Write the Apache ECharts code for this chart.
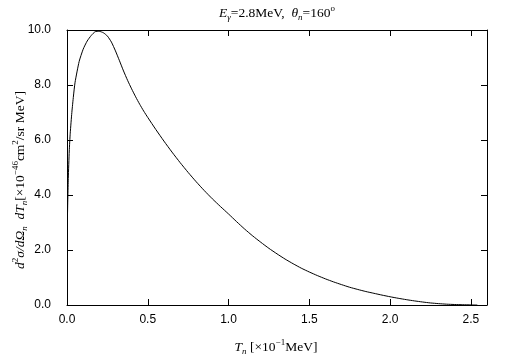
<!DOCTYPE html>
<html>
<head>
<meta charset="utf-8">
<script src="https://cdn.jsdelivr.net/npm/echarts@6/dist/echarts.min.js"></script>
<style>html,body{margin:0;padding:0;background:#fff}#c{width:505px;height:361px}</style>
</head>
<body>
<div id="c"></div>
<script>
var tn = [0.003, 0.008, 0.014, 0.02, 0.03, 0.04, 0.05, 0.075, 0.10, 0.125, 0.15, 0.175, 0.20, 0.225, 0.25, 0.275, 0.30, 0.325, 0.35, 0.375, 0.40, 0.425, 0.45, 0.475, 0.50, 0.55, 0.60, 0.65, 0.70, 0.75, 0.80, 0.85, 0.90, 0.95, 1.00, 1.05, 1.10, 1.15, 1.20, 1.25, 1.30, 1.35, 1.40, 1.45, 1.50, 1.55, 1.60, 1.65, 1.70, 1.75, 1.80, 1.85, 1.90, 1.95, 2.00, 2.05, 2.10, 2.15, 2.20, 2.25, 2.30, 2.35, 2.40, 2.45, 2.50, 2.54];
var xs = [3.27, 4.6, 5.6, 6.25, 7.0, 7.6, 8.1, 8.85, 9.3, 9.6, 9.8, 9.94, 9.95, 9.9, 9.78, 9.56, 9.24, 8.88, 8.51, 8.17, 7.86, 7.57, 7.30, 7.05, 6.82, 6.38, 5.96, 5.56, 5.18, 4.82, 4.48, 4.16, 3.86, 3.58, 3.31, 3.03, 2.76, 2.51, 2.28, 2.06, 1.86, 1.67, 1.50, 1.34, 1.20, 1.07, 0.95, 0.84, 0.74, 0.645, 0.565, 0.49, 0.425, 0.36, 0.30, 0.245, 0.195, 0.15, 0.11, 0.075, 0.05, 0.03, 0.018, 0.01, 0.004, 0.0];
var xTicks = [0.0, 0.5, 1.0, 1.5, 2.0, 2.5];
var yTicks = [0.0, 2.0, 4.0, 6.0, 8.0, 10.0];

var serif = '"Liberation Serif", "DejaVu Serif", serif';
var sans = '"Liberation Sans", Arial, sans-serif';
var rich = {
  n: {fontFamily: serif, fontSize: 13.5, lineHeight: 18, verticalAlign: 'middle', color: '#000'},
  i: {fontFamily: serif, fontSize: 13.5, fontStyle: 'italic', lineHeight: 18, verticalAlign: 'middle', color: '#000'},
  sup: {fontFamily: serif, fontSize: 9, lineHeight: 9, verticalAlign: 'top', color: '#000'},
  sub: {fontFamily: serif, fontSize: 9, fontStyle: 'italic', lineHeight: 9, verticalAlign: 'bottom', color: '#000'}
};

var chart = echarts.init(document.getElementById('c'), null, {renderer: 'canvas'});
var data = tn.map(function (v, k) { return [v, xs[k]]; });
function axisBase() {
  return {
    type: 'value',
    axisLine: {show: true, onZero: false, lineStyle: {color: '#000', width: 1}},
    axisTick: {show: true, inside: true, length: 6, lineStyle: {color: '#000', width: 1}},
    splitLine: {show: false}
  };
}
function fmt(v) { return v.toFixed(1); }
chart.setOption({
  animation: false,
  backgroundColor: '#fff',
  grid: {left: 67, right: 18, top: 30, bottom: 56, containLabel: false},
  xAxis: [
    Object.assign(axisBase(), {position: 'bottom', min: 0, max: 2.6, interval: 0.5,
      axisLabel: {show: true, margin: 9, fontFamily: sans, fontSize: 12, color: '#000', showMaxLabel: false,
        formatter: function (v) { return xTicks.indexOf(v) >= 0 ? fmt(v) : ''; }}}),
    Object.assign(axisBase(), {position: 'top', min: 0, max: 2.6, interval: 0.5, axisLabel: {show: false}})
  ],
  yAxis: [
    Object.assign(axisBase(), {position: 'left', min: 0, max: 10, interval: 2,
      axisLabel: {show: true, margin: 16, fontFamily: sans, fontSize: 12, color: '#000',
        formatter: function (v) { return yTicks.indexOf(v) >= 0 ? fmt(v) : ''; }}}),
    Object.assign(axisBase(), {position: 'right', min: 0, max: 10, interval: 2, axisLabel: {show: false}})
  ],
  series: [{
    type: 'line', data: data, xAxisIndex: 0, yAxisIndex: 0,
    showSymbol: false, smooth: 0.2,
    lineStyle: {color: '#000', width: 1}
  }],
  graphic: [
    {type: 'text', x: 277, y: 13, style: {
      text: '{i|E}{sub|γ}{n|=2.8MeV,  }{i|θ}{sub|n}{n|=160}{sup|o}', rich: rich,
      align: 'center', verticalAlign: 'middle'}},
    {type: 'text', x: 276, y: 347, style: {
      text: '{i|T}{sub|n}{n| [×10}{sup|−1}{n|MeV]}', rich: rich,
      align: 'center', verticalAlign: 'middle'}},
    {type: 'text', x: 20, y: 180, rotation: Math.PI / 2, style: {
      text: '{i|d}{sup|2}{i|σ/dΩ}{sub|n}{n|  }{i|dT}{sub|n}{n|[×10}{sup|−46}{n|cm}{sup|2}{n|/sr MeV]}', rich: rich,
      align: 'center', verticalAlign: 'middle'}}
  ]
});
</script>
</body>
</html>
